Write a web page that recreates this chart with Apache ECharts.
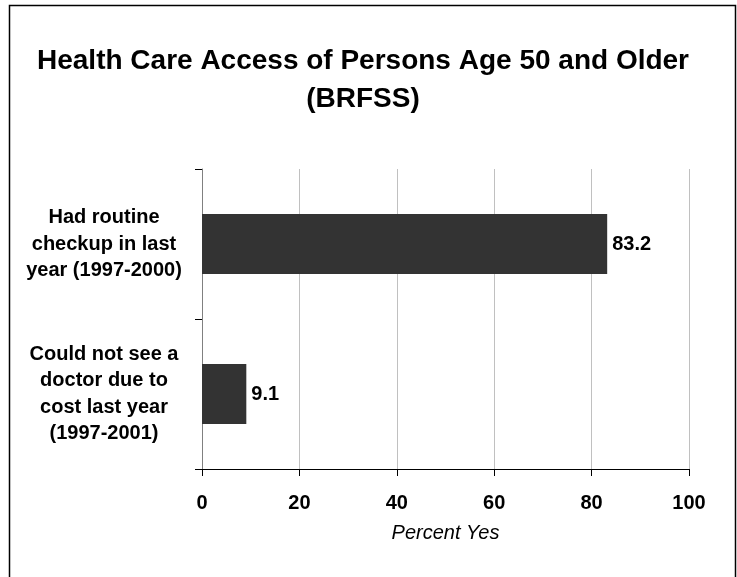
<!DOCTYPE html>
<html>
<head>
<meta charset="utf-8">
<script src="https://cdn.jsdelivr.net/npm/echarts@6/dist/echarts.min.js"></script>
<style>
  html, body { margin: 0; padding: 0; background: #fff; }
  #chart { width: 737px; height: 577px; }
</style>
</head>
<body>
<div id="chart"></div>
<script>
// Survey categories (top to bottom) and their percent-yes values
const categories = [
  'Had routine\ncheckup in last\nyear (1997-2000)',
  'Could not see a\ndoctor due to\ncost last year\n(1997-2001)'
];
const percentYes = [83.2, 9.1];
const titleText = 'Health Care Access of Persons Age 50 and Older\n(BRFSS)';
const axisName = 'Percent Yes';

const FONT = 'Arial, "Liberation Sans", Helvetica, sans-serif';

const chart = echarts.init(document.getElementById('chart'), null, { renderer: 'canvas' });

chart.setOption({
  backgroundColor: '#ffffff',
  animation: false,
  title: {
    text: titleText,
    left: 363,
    top: 42,
    padding: 0,
    textAlign: 'center',
    textStyle: {
      fontFamily: FONT,
      fontSize: 28,
      fontWeight: 'bold',
      color: '#000',
      lineHeight: 38
    }
  },
  grid: {
    left: 202,
    right: 48,
    top: 169,
    bottom: 108,
    containLabel: false
  },
  xAxis: {
    type: 'value',
    min: 0,
    max: 100,
    interval: 20,
    name: axisName,
    nameLocation: 'middle',
    nameGap: 54,
    nameTextStyle: {
      fontFamily: FONT,
      fontSize: 20,
      fontStyle: 'italic',
      color: '#000'
    },
    axisLine: { show: true, lineStyle: { color: '#000', width: 1 } },
    axisTick: { show: true, length: 7, lineStyle: { color: '#000' } },
    axisLabel: {
      margin: 24,
      fontFamily: FONT,
      fontSize: 20,
      fontWeight: 'bold',
      color: '#000'
    },
    splitLine: { show: true, lineStyle: { color: '#c0c0c0', width: 1 } }
  },
  yAxis: {
    type: 'category',
    inverse: true,
    data: categories,
    axisLine: { show: true, lineStyle: { color: '#808080', width: 1 } },
    axisTick: { show: true, length: 7, alignWithLabel: false, lineStyle: { color: '#000' } },
    axisLabel: {
      margin: 98,
      align: 'center',
      fontFamily: FONT,
      fontSize: 20,
      fontWeight: 'bold',
      lineHeight: 26.5,
      color: '#000'
    },
    splitLine: { show: false }
  },
  series: [{
    type: 'bar',
    data: percentYes,
    barWidth: '40%',
    itemStyle: { color: '#333333' },
    label: {
      show: true,
      position: 'right',
      distance: 5,
      fontFamily: FONT,
      fontSize: 20,
      fontWeight: 'bold',
      color: '#000',
      formatter: p => p.value.toFixed(1)
    }
  }],
  graphic: [{
    type: 'rect',
    shape: { x: 9.5, y: 5.5, width: 726, height: 620 },
    style: { fill: 'none', stroke: '#000', lineWidth: 1.5 },
    silent: true,
    z: 100
  }]
});
</script>
</body>
</html>
